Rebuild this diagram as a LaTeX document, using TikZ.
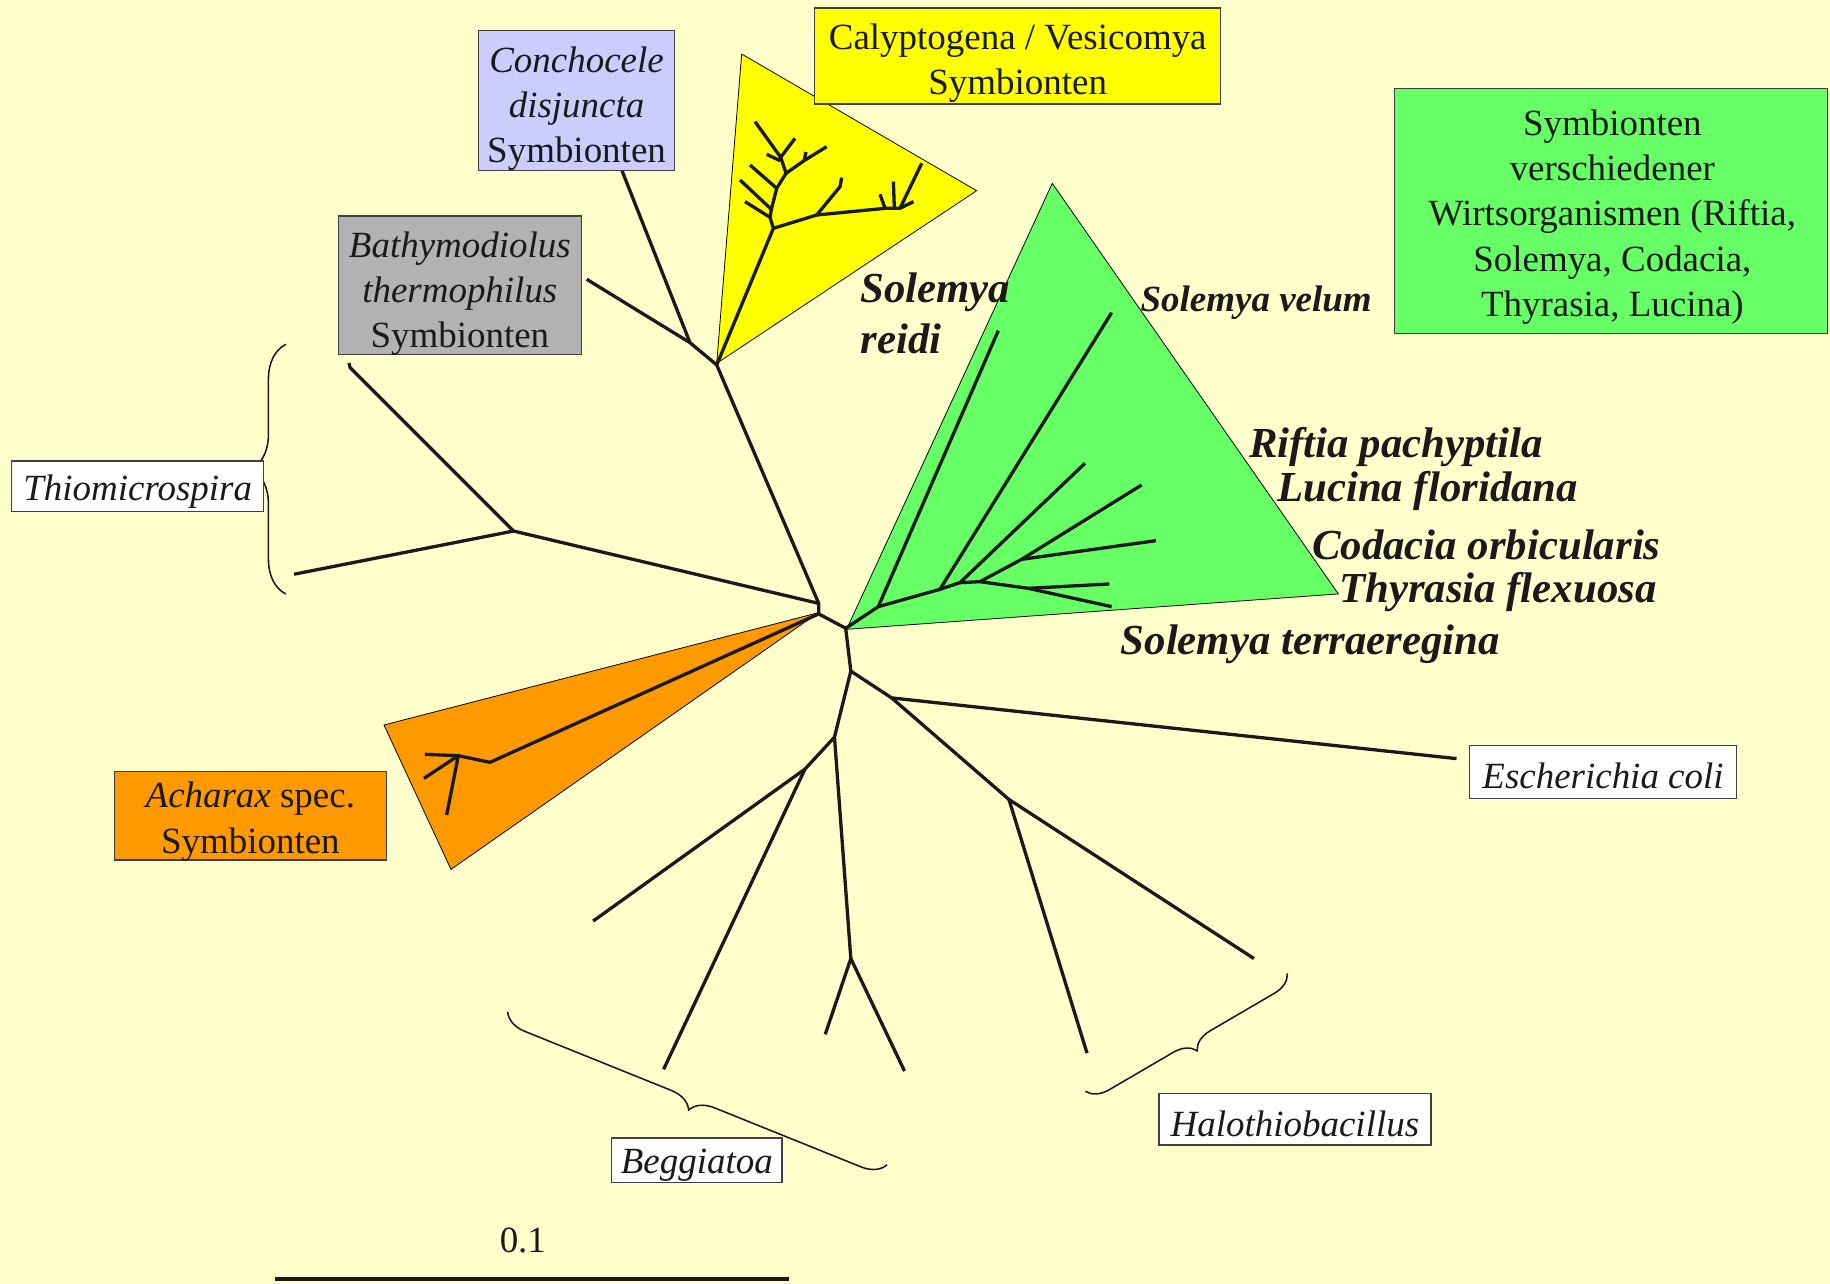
\documentclass[tikz,border=0pt]{standalone}
\usepackage{fontspec}
\setmainfont{Liberation Serif}
\usetikzlibrary{decorations.pathreplacing}
\definecolor{bgc}{HTML}{FFFFCC}
\definecolor{yel}{HTML}{FFFF00}
\definecolor{grn}{HTML}{66FF66}
\definecolor{org}{HTML}{FF9900}
\definecolor{lav}{HTML}{CCCCFF}
\definecolor{gry}{HTML}{B2B2B2}
\definecolor{ink}{HTML}{1A1A1A}
\begin{document}
\begin{tikzpicture}[x=0.6pt,y=-0.6pt,
  tree/.style={line width=1.7pt, line join=round, draw=ink},
  tri/.style={draw=black, line width=0.4pt},
  frame/.style={draw=black!75, line width=0.7pt, inner sep=0pt},
  boxtext/.style={align=center, inner sep=0pt, text=ink, font=\fontsize{19}{23.3}\selectfont},
  lab/.style={font=\fontsize{22}{26}\selectfont\bfseries\itshape, anchor=base west, inner sep=0pt, text=ink},
  bracestyle/.style={decorate, line width=0.8pt, draw=ink}]
\fill[bgc] (0,0) rectangle (1568,1100);
\useasboundingbox (0,0) rectangle (1568,1100);

% ---------- main coordinates ----------
\coordinate (N1) at (701.5,517);
\coordinate (N2) at (701.5,526);
\coordinate (N3) at (724.6,538.3);
\coordinate (N4) at (729,575);
\coordinate (N5) at (764,598);
\coordinate (N7) at (864.5,685);
\coordinate (N6) at (715,631.6);
\coordinate (N8) at (689.7,659);
\coordinate (N9) at (729,821.3);
\coordinate (ecoli) at (1248,650);
\coordinate (h1) at (1074.4,821.3);
\coordinate (h2) at (931.4,902.4);
\coordinate (b1) at (508.2,789.2);
\coordinate (b2) at (568.6,916.2);
\coordinate (b3) at (707.1,886.2);
\coordinate (b4) at (775,917.7);
\coordinate (T) at (440,455);
\coordinate (t1) at (252,492);
\coordinate (t2) at (300,315);
\coordinate (t2a) at (299,311);
\coordinate (C) at (591.2,293.6);
\coordinate (Y) at (614.1,312.7);
\coordinate (conch) at (532.7,145.6);
\coordinate (bathy) at (502.7,239.3);

% ---------- triangles ----------
\filldraw[tri, fill=yel] (614.1,311.3) -- (635.5,46.3) -- (836.8,163.4) -- cycle;
\filldraw[tri, fill=grn] (725.4,539.2) -- (901.6,157.1) -- (1146.7,508.9) -- cycle;
\filldraw[tri, fill=org] (701.1,525) -- (329,621.2) -- (386.4,744.9) -- cycle;

% ---------- main tree ----------
\draw[tree] (T) -- (N1) -- (Y);
\draw[tree] (t1) -- (T) -- (t2) -- (t2a);
\draw[tree] (Y) -- (C) -- (conch);
\draw[tree] (C) -- (bathy);
\draw[tree] (N1) -- (N2) -- (N3) -- (N4) -- (N5) -- (ecoli);
\draw[tree] (N5) -- (N7) -- (h1);
\draw[tree] (N7) -- (h2);
\draw[tree] (N4) -- (N6) -- (N8) -- (b1);
\draw[tree] (N8) -- (b2);
\draw[tree] (N6) -- (N9) -- (b3);
\draw[tree] (N9) -- (b4);

% ---------- yellow subtree ----------
\begin{scope}[shift={(599.8,34.27)}, scale=0.2856]
  \coordinate (y1) at (220,565);
  \coordinate (s1) at (210,532);
  \coordinate (s2) at (214,508);
  \coordinate (s3) at (230,445);
  \coordinate (s4) at (258,400);
  \coordinate (s5) at (242,352);
  \coordinate (s6) at (312,362);
  \coordinate (r1) at (350,525);
  \coordinate (r2) at (555,505);
  \coordinate (r3) at (600,505);
  \coordinate (r4) at (420,440);
  \draw[tree] (Y) -- (y1) -- (s1) -- (s2) -- (s3) -- (s4) -- (s5) -- (165,245);
  \draw[tree] (s1) -- (135,485);
  \draw[tree] (s2) -- (120,420);
  \draw[tree] (s3) -- (150,375);
  \draw[tree] (s5) -- (285,295);
  \draw[tree] (240,362) -- (200,343);
  \draw[tree] (s4) -- (s6) -- (380,320);
  \draw[tree] (s6) -- (318,336);
  \draw[tree] (y1) -- (r1) -- (r2) -- (r3) -- (665,370);
  \draw[tree] (r1) -- (r4) -- (425,413);
  \draw[tree] (r2) -- (540,463);
  \draw[tree] (583,505) -- (580,425);
  \draw[tree] (r3) -- (640,485);
\end{scope}

% ---------- green subtree ----------
\begin{scope}[shift={(719.7,145.66)}, scale=0.2856]
  \coordinate (G1) at (115,1310);
  \coordinate (G2) at (300,1258);
  \coordinate (G3) at (360,1238);
  \coordinate (G4) at (420,1235);
  \coordinate (G5) at (545,1168);
  \coordinate (G6) at (565,1255);
  \draw[tree] (N3) -- (G1) -- (475,482);
  \draw[tree] (G1) -- (G2) -- (815,428);
  \draw[tree] (G2) -- (G3) -- (735,880);
  \draw[tree] (G3) -- (G4) -- (G5) -- (905,945);
  \draw[tree] (G5) -- (948,1112);
  \draw[tree] (G4) -- (G6) -- (808,1242);
  \draw[tree] (G6) -- (815,1310);
\end{scope}

% ---------- orange subtree ----------
\begin{scope}[shift={(317.0,514.1)}, scale=0.2856]
  \coordinate (O1) at (360,487);
  \coordinate (O2) at (265,467);
  \draw[tree] (N2) -- (O1) -- (O2) -- (165,463);
  \draw[tree] (O2) -- (230,645);
  \draw[tree] (O2) -- (162,535);
\end{scope}

% ---------- braces ----------
\draw[bracestyle, decoration={brace, amplitude=18pt}] (245,509) -- (245,295);
\draw[bracestyle, decoration={brace, amplitude=11pt}] (1103,834) -- (930,935);
\draw[bracestyle, decoration={brace, amplitude=12pt}] (760,998) -- (435,867);

% ---------- boxes ----------
\node[frame, fill=yel, minimum width=208.8pt, minimum height=49.2pt] (caly) at (872,48) {};
\node[boxtext] (calyt) at (872,54) {Calyptogena / Vesicomya\\Symbionten};
\node[frame, fill=lav, minimum width=100.8pt, minimum height=72pt] (conchbox) at (494,86) {};
\node[boxtext] (concht) at (494,93) {\itshape Conchocele\\\itshape disjuncta\\Symbionten};
\node[frame, fill=gry, minimum width=124.8pt, minimum height=71.4pt] (bathybox) at (394,244.5) {};
\node[boxtext] (bathyt) at (394,251.5) {\itshape Bathymodiolus\\\itshape thermophilus\\Symbionten};
\node[frame, fill=white, minimum width=129.6pt, minimum height=25.8pt] (thio) at (118,416.5) {};
\node[boxtext] (thiot) at (118,421) {\itshape Thiomicrospira};
\node[frame, fill=org, minimum width=139.8pt, minimum height=45.6pt] (acharax) at (214.5,699) {};
\node[boxtext] (acharaxt) at (214.5,704) {\textit{Acharax} spec.\\Symbionten};
\node[frame, fill=grn, minimum width=222.6pt, minimum height=126pt] (greenbox) at (1380.5,181) {};
\node[boxtext] (greent) at (1381.5,186) {Symbionten\\verschiedener\\Wirtsorganismen (Riftia,\\Solemya, Codacia,\\Thyrasia, Lucina)};
\node[frame, fill=white, minimum width=137.4pt, minimum height=27pt] (ecolibox) at (1373.5,661.5) {};
\node[boxtext] (ecolit) at (1373.5,665) {\itshape Escherichia coli};
\node[frame, fill=white, minimum width=139.8pt, minimum height=26.4pt] (halo) at (1109.5,959) {};
\node[boxtext] (halot) at (1109.5,963) {\itshape Halothiobacillus};
\node[frame, fill=white, minimum width=87.6pt, minimum height=22.8pt] (begg) at (597,994) {};
\node[boxtext] (beggt) at (597,998) {\itshape Beggiatoa};

% ---------- species labels ----------
\node[lab] (sr1) at (737,259) {Solemya};
\node[lab] (sr2) at (737,303) {reidi};
\node[lab, font=\fontsize{19}{23}\selectfont\bfseries\itshape] (svel) at (977,267) {Solemya velum};
\node[lab] (rift) at (1070,392) {Riftia pachyptila};
\node[lab] (luc) at (1094,430) {Lucina floridana};
\node[lab] (cod) at (1124,479) {Codacia orbicularis};
\node[lab] (thy) at (1147,516) {Thyrasia flexuosa};
\node[lab] (sterr) at (960,561) {Solemya terraeregina};

% ---------- scale bar ----------
\node[font=\fontsize{19}{23}\selectfont, text=ink] (sclab) at (448,1063) {0.1};
\coordinate (sb0) at (236,1096);
\coordinate (sb1) at (676,1096);
\draw[line width=1.8pt, draw=ink] (sb0) -- (sb1);
\end{tikzpicture}
\end{document}
